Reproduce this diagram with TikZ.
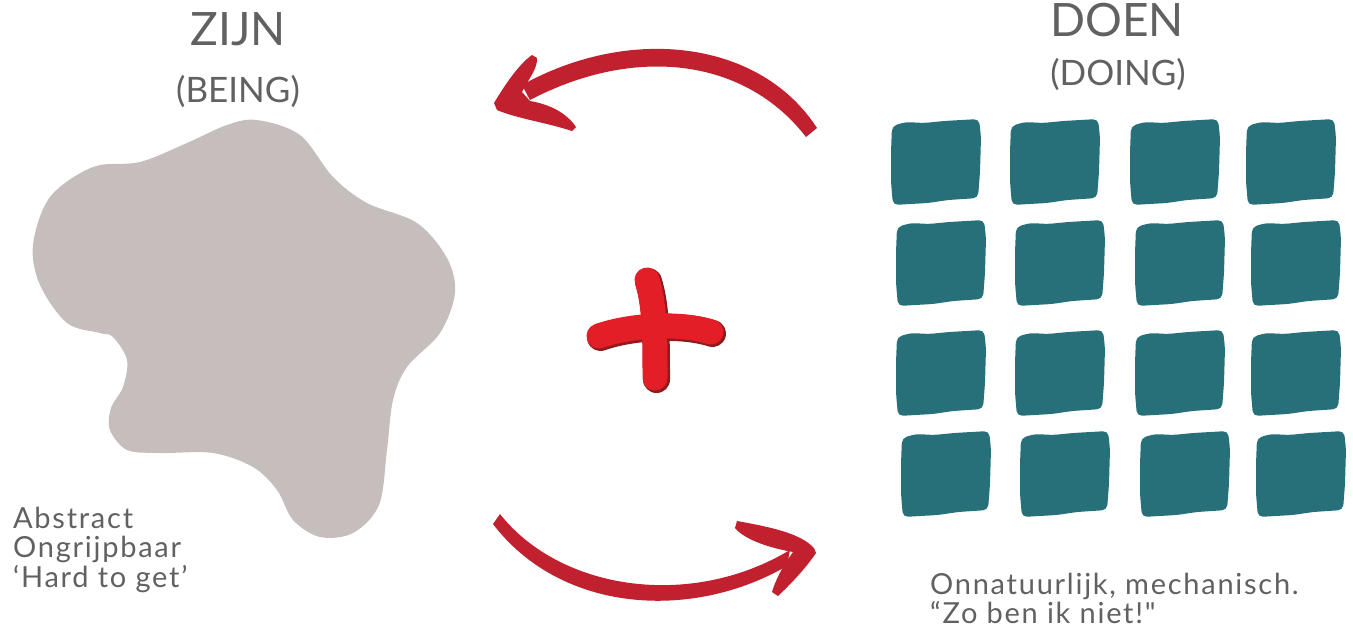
\documentclass[tikz,border=0pt]{standalone}
\usepackage{fontspec}
\newfontfamily\latofont{Lato}
\newfontfamily\latobreed{Lato}[LetterSpace=6]
\definecolor{zijngrijs}{HTML}{C5BEBC}
\definecolor{doenblauw}{HTML}{276F79}
\definecolor{pijlrood}{HTML}{C1202E}
\definecolor{plusrood}{HTML}{E41E26}
\definecolor{plusrand}{HTML}{8E1B1E}
\definecolor{tekstgrijs}{HTML}{616161}
\tikzset{
  titel/.style={text=tekstgrijs, font=\latofont\fontsize{46}{50}\selectfont, inner sep=0pt, anchor=base},
  ondertitel/.style={text=tekstgrijs, font=\latofont\fontsize{35}{40}\selectfont, inner sep=0pt, anchor=base},
  uitleg/.style={text=tekstgrijs, font=\latobreed\fontsize{29}{30}\selectfont, inner sep=0pt, anchor=base west},
  plusstreep/.style={plusrood, line width=25pt, line cap=round},
  plusschaduw/.style={plusrand, line width=27pt, line cap=round},
}
\newcommand{\tegel}[2]{%
  \fill[doenblauw, shift={(#1,#2)}, rounded corners=5pt]
    (-44,-36) -- (-30,-40) -- (-12,-39) -- (8,-41) -- (43,-43) -- (45,-25)
    -- (44,10) -- (42,36) -- (12,38) -- (-8,41) -- (-43,43) -- (-45,20)
    -- (-45,-10) -- cycle;
}
\begin{document}
\begin{tikzpicture}[x=1pt,y=-1pt]
  \useasboundingbox (0,0) rectangle (1353,632);
  % zijn
  \node[titel] (zijn) at (238,45) {ZIJN};
  \node[ondertitel] (being) at (238,102) {(BEING)};
  \fill[zijngrijs] plot[smooth cycle, tension=0.55] coordinates {
    (257,120) (300,135) (333,177) (367,203) (417,223) (447,258) (455,293)
    (440,333) (407,367) (393,400) (387,450) (379,505) (353,533) (320,537)
    (293,520) (277,490) (253,467) (213,453) (160,453) (127,450) (110,430)
    (111,408) (123,387) (127,360) (113,337) (100,333) (67,323) (40,285)
    (33,245) (50,197) (93,167) (140,162) (187,143) (227,125)};
  \node[uitleg] (abstract) at (13,528) {Abstract};
  \node[uitleg] (ongrijpbaar) at (13,557) {Ongrijpbaar};
  \node[uitleg] (hardtoget) at (13,587) {‘Hard to get’};
  % doen
  \node[titel] (doen) at (1117,36) {DOEN};
  \node[ondertitel] (doing) at (1118,85) {(DOING)};
  \foreach \ry/\rx in {162/0, 263/5, 373/5, 474/10}
    \foreach \kx in {936,1055,1175,1291}
      \tegel{\kx+\rx}{\ry};
  \node[uitleg] (onnatuurlijk) at (930,594) {Onnatuurlijk, mechanisch.};
  \node[uitleg] (zoben) at (930,623) {“Zo ben ik niet!"};
  % pijl boven
  \fill[pijlrood] (817,128) .. controls (760,40) and (630,25) .. (522,85)
    -- (530,100) .. controls (635,45) and (745,58) .. (806,137) -- cycle;
  \fill[pijlrood] (494,103) .. controls (505,85) and (518,65) .. (532,55)
    -- (537,58) .. controls (538,68) and (528,80) .. (522,92)
    -- (530,101) .. controls (548,104) and (566,112) .. (576,127)
    -- (572,131) .. controls (548,123) and (515,118) .. (497,110) -- cycle;
  % pijl onder
  \fill[pijlrood] (500,514) .. controls (560,590) and (690,610) .. (790,550)
    -- (787,566) .. controls (690,622) and (560,612) .. (493,524) -- cycle;
  \fill[pijlrood] (814,548) .. controls (800,533) and (770,527) .. (737,521)
    -- (735,528) .. controls (745,540) and (770,548) .. (793,552)
    -- (786,562) .. controls (780,572) and (775,582) .. (772,592)
    -- (778,596) .. controls (795,580) and (808,565) .. (816,553) -- cycle;
  % plus
  \begin{scope}[shift={(1.5,1.5)}]
    \draw[plusschaduw] (647,280) .. controls (655,305) and (655,340) .. (655,378);
    \draw[plusschaduw] (599,336) .. controls (630,325) and (680,322) .. (711,332);
  \end{scope}
  \draw[plusstreep] (647,280) .. controls (655,305) and (655,340) .. (655,378);
  \draw[plusstreep] (599,336) .. controls (630,325) and (680,322) .. (711,332);
\end{tikzpicture}
\end{document}
